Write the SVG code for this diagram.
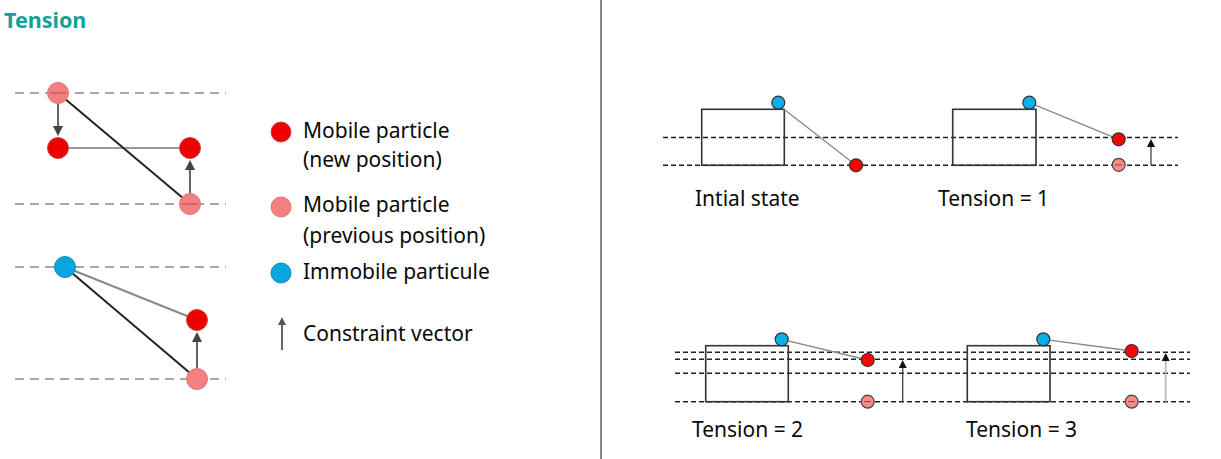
<svg xmlns="http://www.w3.org/2000/svg" width="1221" height="459" viewBox="0 0 1221 459">
<style>
.t{font-family:"Noto Sans","Liberation Sans",sans-serif;font-size:21px;fill:#0a0a0a}
.ld{stroke:#8a8a8a;stroke-width:1.6;stroke-dasharray:9 6;fill:none}
.rd{stroke:#222;stroke-width:1.5;stroke-dasharray:5 3;fill:none}
.red{fill:#ee0000;stroke:#c44;stroke-width:1}
.pink{fill:#f47f7f;stroke:#d77;stroke-width:1}
.blue{fill:#0aa6e0;stroke:#0a8cc0;stroke-width:1}
.rred{fill:#ff0000;stroke:#333;stroke-width:1.2}
.rpink{fill:#f48a8a;stroke:#444;stroke-width:1.2}
.rblue{fill:#0aaee8;stroke:#333;stroke-width:1.2}
.box{fill:none;stroke:#333;stroke-width:1.6}
</style>
<defs>
<marker id="ah" markerWidth="10" markerHeight="10" refX="5" refY="5" orient="auto" markerUnits="userSpaceOnUse" viewBox="0 0 10 10"><path d="M0,0 L10,5 L0,10 z" fill="#444"/></marker>
<marker id="ahl" markerWidth="8" markerHeight="8" refX="4" refY="4" orient="auto" markerUnits="userSpaceOnUse" viewBox="0 0 8 8"><path d="M0,0 L8,4 L0,8 z" fill="#555"/></marker>
<marker id="ahs" markerWidth="8" markerHeight="8" refX="4" refY="4" orient="auto" markerUnits="userSpaceOnUse" viewBox="0 0 8 8"><path d="M0,0 L8,4 L0,8 z" fill="#111"/></marker>
</defs>
<rect width="1221" height="459" fill="#fff"/>
<text x="4" y="28" style="font-family:'Noto Sans','Liberation Sans',sans-serif;font-weight:bold;font-size:21.5px;fill:#16a09a">Tension</text>
<line x1="601" y1="0" x2="601" y2="459" stroke="#888" stroke-width="2"/>

<g id="left-lines">
<line class="ld" x1="15" y1="93" x2="226" y2="93"/>
<line class="ld" x1="15" y1="204" x2="226" y2="204"/>
<line class="ld" x1="15" y1="267" x2="226" y2="267"/>
<line class="ld" x1="15" y1="379" x2="226" y2="379"/>
</g>
<g id="connectors">
<line x1="58" y1="148" x2="190" y2="148" stroke="#999" stroke-width="2"/>
<line x1="58" y1="93" x2="190" y2="204" stroke="#222" stroke-width="2"/>
<line x1="58" y1="103" x2="58" y2="131" stroke="#666" stroke-width="2" marker-end="url(#ah)"/>
<line x1="190" y1="193" x2="190" y2="165" stroke="#666" stroke-width="2" marker-end="url(#ah)"/>
<line x1="65" y1="267" x2="197" y2="320" stroke="#888" stroke-width="2"/>
<line x1="65" y1="267" x2="197" y2="379" stroke="#222" stroke-width="2"/>
<line x1="197" y1="368" x2="197" y2="337" stroke="#666" stroke-width="2" marker-end="url(#ah)"/>
<line x1="282" y1="350" x2="282" y2="321" stroke="#666" stroke-width="2" marker-end="url(#ahl)"/>
</g>
<g id="p1"><circle class="pink" cx="58" cy="93" r="10.5"/><line x1="50" y1="93" x2="66" y2="93" stroke="#b55" stroke-width="1.2"/></g>
<g id="p2"><circle class="red" cx="58" cy="148" r="10.5"/></g>
<g id="p3"><circle class="red" cx="190" cy="148" r="10.5"/></g>
<g id="p4"><circle class="pink" cx="190" cy="204" r="10.5"/><line x1="182" y1="204" x2="198" y2="204" stroke="#b55" stroke-width="1.2"/></g>
<g id="p5"><circle class="blue" cx="65" cy="267" r="10.5"/></g>
<g id="p6"><circle class="red" cx="197" cy="320" r="10.5"/></g>
<g id="p7"><circle class="pink" cx="197" cy="379" r="10.5"/></g>

<g id="legend">
<circle class="red" cx="281" cy="132" r="10"/>
<text class="t" x="303" y="138">Mobile particle</text>
<text class="t" x="303" y="167">(new position)</text>
<circle class="pink" cx="281" cy="207" r="10"/>
<text class="t" x="303" y="212">Mobile particle</text>
<text class="t" x="303" y="243">(previous position)</text>
<circle class="blue" cx="281" cy="273" r="10"/>
<text class="t" x="303" y="279">Immobile particule</text>
<text class="t" x="303" y="341">Constraint vector</text>
</g>

<g id="panel1">
<line class="rd" x1="663" y1="137.5" x2="1178" y2="137.5"/>
<line class="rd" x1="663" y1="165.3" x2="1178" y2="165.3"/>
<rect class="box" x="701.7" y="109.3" width="82.6" height="56"/>
<line x1="784" y1="109.3" x2="856" y2="165.3" stroke="#888" stroke-width="1.3"/>
<circle class="rblue" cx="778.3" cy="102.7" r="6.5"/>
<circle class="rred" cx="856" cy="165.3" r="6.5"/>
<text class="t" x="695" y="206">Intial state</text>
</g>
<g id="panel2">
<rect class="box" x="952.7" y="109.3" width="83.3" height="56"/>
<line x1="1029.3" y1="102.7" x2="1118.7" y2="139.3" stroke="#888" stroke-width="1.3"/>
<circle class="rblue" cx="1029.3" cy="102.7" r="6.5"/>
<circle class="rred" cx="1118.7" cy="139.3" r="6.5"/>
<circle class="rpink" cx="1118.7" cy="164.8" r="6.5"/>
<line x1="1115" y1="165" x2="1122" y2="165" stroke="#844" stroke-width="1"/>
<line x1="1151" y1="165.3" x2="1151" y2="143" stroke="#444" stroke-width="1.3" marker-end="url(#ahs)"/>
<text class="t" x="938" y="206">Tension = 1</text>
</g>

<g id="panel3-lines">
<line class="rd" x1="675" y1="352.3" x2="1190" y2="352.3"/>
<line class="rd" x1="675" y1="359.3" x2="1190" y2="359.3"/>
<line class="rd" x1="675" y1="373.3" x2="1190" y2="373.3"/>
<line class="rd" x1="675" y1="401.7" x2="1190" y2="401.7"/>
</g>
<g id="panel3">
<rect class="box" x="705.7" y="345.7" width="82.6" height="56"/>
<line x1="781.7" y1="339.3" x2="867.7" y2="360" stroke="#888" stroke-width="1.3"/>
<circle class="rblue" cx="781.7" cy="339.3" r="6.5"/>
<circle class="rred" cx="867.7" cy="360" r="6.5"/>
<circle class="rpink" cx="867.7" cy="401.7" r="6.5"/>
<line x1="864" y1="401.7" x2="871" y2="401.7" stroke="#844" stroke-width="1"/>
<line x1="902.7" y1="401.7" x2="902.7" y2="364" stroke="#444" stroke-width="1.3" marker-end="url(#ahs)"/>
<text class="t" x="692" y="437">Tension = 2</text>
</g>
<g id="panel4">
<rect class="box" x="967.3" y="345.7" width="82.7" height="56"/>
<line x1="1043.3" y1="339.3" x2="1131.7" y2="351" stroke="#888" stroke-width="1.3"/>
<circle class="rblue" cx="1043.3" cy="339.3" r="6.5"/>
<circle class="rred" cx="1131.7" cy="351" r="6.5"/>
<circle class="rpink" cx="1131.7" cy="401.7" r="6.5"/>
<line x1="1128" y1="401.7" x2="1135" y2="401.7" stroke="#844" stroke-width="1"/>
<line x1="1165.7" y1="401.7" x2="1165.7" y2="357" stroke="#bbb" stroke-width="1.8" marker-end="url(#ahs)"/>
<text class="t" x="966" y="437">Tension = 3</text>
</g>
</svg>
